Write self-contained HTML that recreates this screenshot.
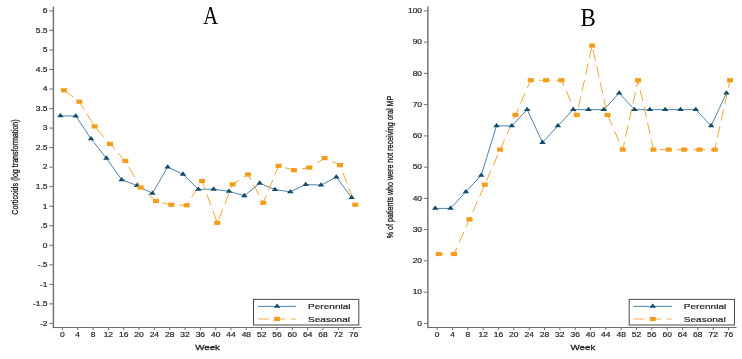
<!DOCTYPE html>
<html><head><meta charset="utf-8"><style>
html,body{margin:0;padding:0;background:#fff;}
body{width:742px;height:359px;overflow:hidden;}
svg{display:block;}
svg{will-change:transform;}
#wrap{width:742px;height:359px;}
.t{font-family:"Liberation Sans",sans-serif;font-size:8.5px;fill:#1e1e1e;stroke:#1e1e1e;stroke-width:0.22px;}
.w{font-family:"Liberation Sans",sans-serif;font-size:9.8px;fill:#1e1e1e;stroke:#1e1e1e;stroke-width:0.35px;}
.lg{font-family:"Liberation Sans",sans-serif;font-size:10.05px;fill:#1e1e1e;stroke:#1e1e1e;stroke-width:0.25px;}
.yl{font-family:"Liberation Sans",sans-serif;font-size:9.9px;fill:#1e1e1e;stroke:#1e1e1e;stroke-width:0.35px;}
.ti{font-family:"Liberation Serif",serif;font-size:23px;fill:#000;}
</style></head><body>
<div id="wrap"><svg width="742" height="359" viewBox="0 0 742 359">
<line x1="53.4" y1="6.4" x2="53.4" y2="328.2" stroke="#6e6e6e" stroke-width="1.4"/>
<line x1="52.9" y1="327.5" x2="361.7" y2="327.5" stroke="#6e6e6e" stroke-width="1.2"/>
<line x1="49.4" y1="10.90" x2="53.4" y2="10.90" stroke="#6e6e6e" stroke-width="1"/>
<text x="47.6" y="10.90" transform="translate(0 10.90) scale(1 0.78) translate(0 -10.90)" dy="3.0" text-anchor="end" class="t">6</text>
<line x1="49.4" y1="30.43" x2="53.4" y2="30.43" stroke="#6e6e6e" stroke-width="1"/>
<text x="47.6" y="30.43" transform="translate(0 30.43) scale(1 0.78) translate(0 -30.43)" dy="3.0" text-anchor="end" class="t">5.5</text>
<line x1="49.4" y1="49.96" x2="53.4" y2="49.96" stroke="#6e6e6e" stroke-width="1"/>
<text x="47.6" y="49.96" transform="translate(0 49.96) scale(1 0.78) translate(0 -49.96)" dy="3.0" text-anchor="end" class="t">5</text>
<line x1="49.4" y1="69.49" x2="53.4" y2="69.49" stroke="#6e6e6e" stroke-width="1"/>
<text x="47.6" y="69.49" transform="translate(0 69.49) scale(1 0.78) translate(0 -69.49)" dy="3.0" text-anchor="end" class="t">4.5</text>
<line x1="49.4" y1="89.02" x2="53.4" y2="89.02" stroke="#6e6e6e" stroke-width="1"/>
<text x="47.6" y="89.02" transform="translate(0 89.02) scale(1 0.78) translate(0 -89.02)" dy="3.0" text-anchor="end" class="t">4</text>
<line x1="49.4" y1="108.56" x2="53.4" y2="108.56" stroke="#6e6e6e" stroke-width="1"/>
<text x="47.6" y="108.56" transform="translate(0 108.56) scale(1 0.78) translate(0 -108.56)" dy="3.0" text-anchor="end" class="t">3.5</text>
<line x1="49.4" y1="128.09" x2="53.4" y2="128.09" stroke="#6e6e6e" stroke-width="1"/>
<text x="47.6" y="128.09" transform="translate(0 128.09) scale(1 0.78) translate(0 -128.09)" dy="3.0" text-anchor="end" class="t">3</text>
<line x1="49.4" y1="147.62" x2="53.4" y2="147.62" stroke="#6e6e6e" stroke-width="1"/>
<text x="47.6" y="147.62" transform="translate(0 147.62) scale(1 0.78) translate(0 -147.62)" dy="3.0" text-anchor="end" class="t">2.5</text>
<line x1="49.4" y1="167.15" x2="53.4" y2="167.15" stroke="#6e6e6e" stroke-width="1"/>
<text x="47.6" y="167.15" transform="translate(0 167.15) scale(1 0.78) translate(0 -167.15)" dy="3.0" text-anchor="end" class="t">2</text>
<line x1="49.4" y1="186.68" x2="53.4" y2="186.68" stroke="#6e6e6e" stroke-width="1"/>
<text x="47.6" y="186.68" transform="translate(0 186.68) scale(1 0.78) translate(0 -186.68)" dy="3.0" text-anchor="end" class="t">1.5</text>
<line x1="49.4" y1="206.21" x2="53.4" y2="206.21" stroke="#6e6e6e" stroke-width="1"/>
<text x="47.6" y="206.21" transform="translate(0 206.21) scale(1 0.78) translate(0 -206.21)" dy="3.0" text-anchor="end" class="t">1</text>
<line x1="49.4" y1="225.74" x2="53.4" y2="225.74" stroke="#6e6e6e" stroke-width="1"/>
<text x="47.6" y="225.74" transform="translate(0 225.74) scale(1 0.78) translate(0 -225.74)" dy="3.0" text-anchor="end" class="t">.5</text>
<line x1="49.4" y1="245.27" x2="53.4" y2="245.27" stroke="#6e6e6e" stroke-width="1"/>
<text x="47.6" y="245.27" transform="translate(0 245.27) scale(1 0.78) translate(0 -245.27)" dy="3.0" text-anchor="end" class="t">0</text>
<line x1="49.4" y1="264.81" x2="53.4" y2="264.81" stroke="#6e6e6e" stroke-width="1"/>
<text x="47.6" y="264.81" transform="translate(0 264.81) scale(1 0.78) translate(0 -264.81)" dy="3.0" text-anchor="end" class="t">-.5</text>
<line x1="49.4" y1="284.34" x2="53.4" y2="284.34" stroke="#6e6e6e" stroke-width="1"/>
<text x="47.6" y="284.34" transform="translate(0 284.34) scale(1 0.78) translate(0 -284.34)" dy="3.0" text-anchor="end" class="t">-1</text>
<line x1="49.4" y1="303.87" x2="53.4" y2="303.87" stroke="#6e6e6e" stroke-width="1"/>
<text x="47.6" y="303.87" transform="translate(0 303.87) scale(1 0.78) translate(0 -303.87)" dy="3.0" text-anchor="end" class="t">-1.5</text>
<line x1="49.4" y1="323.40" x2="53.4" y2="323.40" stroke="#6e6e6e" stroke-width="1"/>
<text x="47.6" y="323.40" transform="translate(0 323.40) scale(1 0.78) translate(0 -323.40)" dy="3.0" text-anchor="end" class="t">-2</text>
<line x1="62.40" y1="327.5" x2="62.40" y2="330.1" stroke="#6e6e6e" stroke-width="1"/>
<text x="62.40" y="334.3" transform="translate(0 334.3) scale(1 0.78) translate(0 -334.3)" dy="3.0" text-anchor="middle" class="t">0</text>
<line x1="77.73" y1="327.5" x2="77.73" y2="330.1" stroke="#6e6e6e" stroke-width="1"/>
<text x="77.73" y="334.3" transform="translate(0 334.3) scale(1 0.78) translate(0 -334.3)" dy="3.0" text-anchor="middle" class="t">4</text>
<line x1="93.06" y1="327.5" x2="93.06" y2="330.1" stroke="#6e6e6e" stroke-width="1"/>
<text x="93.06" y="334.3" transform="translate(0 334.3) scale(1 0.78) translate(0 -334.3)" dy="3.0" text-anchor="middle" class="t">8</text>
<line x1="108.39" y1="327.5" x2="108.39" y2="330.1" stroke="#6e6e6e" stroke-width="1"/>
<text x="108.39" y="334.3" transform="translate(0 334.3) scale(1 0.78) translate(0 -334.3)" dy="3.0" text-anchor="middle" class="t">12</text>
<line x1="123.72" y1="327.5" x2="123.72" y2="330.1" stroke="#6e6e6e" stroke-width="1"/>
<text x="123.72" y="334.3" transform="translate(0 334.3) scale(1 0.78) translate(0 -334.3)" dy="3.0" text-anchor="middle" class="t">16</text>
<line x1="139.05" y1="327.5" x2="139.05" y2="330.1" stroke="#6e6e6e" stroke-width="1"/>
<text x="139.05" y="334.3" transform="translate(0 334.3) scale(1 0.78) translate(0 -334.3)" dy="3.0" text-anchor="middle" class="t">20</text>
<line x1="154.38" y1="327.5" x2="154.38" y2="330.1" stroke="#6e6e6e" stroke-width="1"/>
<text x="154.38" y="334.3" transform="translate(0 334.3) scale(1 0.78) translate(0 -334.3)" dy="3.0" text-anchor="middle" class="t">24</text>
<line x1="169.71" y1="327.5" x2="169.71" y2="330.1" stroke="#6e6e6e" stroke-width="1"/>
<text x="169.71" y="334.3" transform="translate(0 334.3) scale(1 0.78) translate(0 -334.3)" dy="3.0" text-anchor="middle" class="t">28</text>
<line x1="185.04" y1="327.5" x2="185.04" y2="330.1" stroke="#6e6e6e" stroke-width="1"/>
<text x="185.04" y="334.3" transform="translate(0 334.3) scale(1 0.78) translate(0 -334.3)" dy="3.0" text-anchor="middle" class="t">32</text>
<line x1="200.37" y1="327.5" x2="200.37" y2="330.1" stroke="#6e6e6e" stroke-width="1"/>
<text x="200.37" y="334.3" transform="translate(0 334.3) scale(1 0.78) translate(0 -334.3)" dy="3.0" text-anchor="middle" class="t">36</text>
<line x1="215.70" y1="327.5" x2="215.70" y2="330.1" stroke="#6e6e6e" stroke-width="1"/>
<text x="215.70" y="334.3" transform="translate(0 334.3) scale(1 0.78) translate(0 -334.3)" dy="3.0" text-anchor="middle" class="t">40</text>
<line x1="231.03" y1="327.5" x2="231.03" y2="330.1" stroke="#6e6e6e" stroke-width="1"/>
<text x="231.03" y="334.3" transform="translate(0 334.3) scale(1 0.78) translate(0 -334.3)" dy="3.0" text-anchor="middle" class="t">44</text>
<line x1="246.36" y1="327.5" x2="246.36" y2="330.1" stroke="#6e6e6e" stroke-width="1"/>
<text x="246.36" y="334.3" transform="translate(0 334.3) scale(1 0.78) translate(0 -334.3)" dy="3.0" text-anchor="middle" class="t">48</text>
<line x1="261.69" y1="327.5" x2="261.69" y2="330.1" stroke="#6e6e6e" stroke-width="1"/>
<text x="261.69" y="334.3" transform="translate(0 334.3) scale(1 0.78) translate(0 -334.3)" dy="3.0" text-anchor="middle" class="t">52</text>
<line x1="277.02" y1="327.5" x2="277.02" y2="330.1" stroke="#6e6e6e" stroke-width="1"/>
<text x="277.02" y="334.3" transform="translate(0 334.3) scale(1 0.78) translate(0 -334.3)" dy="3.0" text-anchor="middle" class="t">56</text>
<line x1="292.35" y1="327.5" x2="292.35" y2="330.1" stroke="#6e6e6e" stroke-width="1"/>
<text x="292.35" y="334.3" transform="translate(0 334.3) scale(1 0.78) translate(0 -334.3)" dy="3.0" text-anchor="middle" class="t">60</text>
<line x1="307.68" y1="327.5" x2="307.68" y2="330.1" stroke="#6e6e6e" stroke-width="1"/>
<text x="307.68" y="334.3" transform="translate(0 334.3) scale(1 0.78) translate(0 -334.3)" dy="3.0" text-anchor="middle" class="t">64</text>
<line x1="323.01" y1="327.5" x2="323.01" y2="330.1" stroke="#6e6e6e" stroke-width="1"/>
<text x="323.01" y="334.3" transform="translate(0 334.3) scale(1 0.78) translate(0 -334.3)" dy="3.0" text-anchor="middle" class="t">68</text>
<line x1="338.34" y1="327.5" x2="338.34" y2="330.1" stroke="#6e6e6e" stroke-width="1"/>
<text x="338.34" y="334.3" transform="translate(0 334.3) scale(1 0.78) translate(0 -334.3)" dy="3.0" text-anchor="middle" class="t">72</text>
<line x1="353.67" y1="327.5" x2="353.67" y2="330.1" stroke="#6e6e6e" stroke-width="1"/>
<text x="353.67" y="334.3" transform="translate(0 334.3) scale(1 0.78) translate(0 -334.3)" dy="3.0" text-anchor="middle" class="t">76</text>
<text x="207.6" y="347.1" transform="translate(0 347.1) scale(1 0.75) translate(0 -347.1)" dy="3.5" text-anchor="middle" class="w">Week</text>
<g transform="translate(18.199999999999996 167) rotate(-90) scale(0.72 1)"><text x="0" y="0" text-anchor="middle" class="yl">Corticoids (log transformation)</text></g>
<text x="210.7" y="23.7" text-anchor="middle" class="ti" style="font-size:20.5px" transform="translate(210.7 23.7) scale(1 1.2) translate(-210.7 -23.7)">A</text>
<path d="M60.40 115.80L75.73 116.00L91.06 138.80L106.39 158.20L121.72 179.80L137.05 185.50L152.38 193.30L167.71 167.10L183.04 174.20L198.37 189.30L213.70 189.20L229.03 191.30L244.36 195.70L259.69 183.20L275.02 189.60L290.35 191.80L305.68 184.50L321.01 185.10L336.34 177.10L351.67 197.60" fill="none" stroke="#3a73a0" stroke-width="0.9"/>
<path d="M64.00 90.30L79.33 101.70L94.66 126.40L109.99 144.00L125.32 161.00L140.65 187.50L155.98 201.00L171.31 204.80L186.64 205.30L201.97 181.00L217.30 222.80L232.63 184.30L247.96 174.50L263.29 202.80L278.62 165.80L293.95 170.20L309.28 167.60L324.61 158.10L339.94 165.10L355.27 204.70" fill="none" stroke="#f2a43a" stroke-width="1.0" stroke-dasharray="11.4 5.5" stroke-dashoffset="0.0"/>
<path d="M60.40 112.93L63.70 117.23L57.10 117.23Z" fill="#124c6c"/>
<path d="M75.73 113.13L79.03 117.43L72.43 117.43Z" fill="#124c6c"/>
<path d="M91.06 135.93L94.36 140.23L87.76 140.23Z" fill="#124c6c"/>
<path d="M106.39 155.33L109.69 159.63L103.09 159.63Z" fill="#124c6c"/>
<path d="M121.72 176.93L125.02 181.23L118.42 181.23Z" fill="#124c6c"/>
<path d="M137.05 182.63L140.35 186.93L133.75 186.93Z" fill="#124c6c"/>
<path d="M152.38 190.43L155.68 194.73L149.08 194.73Z" fill="#124c6c"/>
<path d="M167.71 164.23L171.01 168.53L164.41 168.53Z" fill="#124c6c"/>
<path d="M183.04 171.33L186.34 175.63L179.74 175.63Z" fill="#124c6c"/>
<path d="M198.37 186.43L201.67 190.73L195.07 190.73Z" fill="#124c6c"/>
<path d="M213.70 186.33L217.00 190.63L210.40 190.63Z" fill="#124c6c"/>
<path d="M229.03 188.43L232.33 192.73L225.73 192.73Z" fill="#124c6c"/>
<path d="M244.36 192.83L247.66 197.13L241.06 197.13Z" fill="#124c6c"/>
<path d="M259.69 180.33L262.99 184.63L256.39 184.63Z" fill="#124c6c"/>
<path d="M275.02 186.73L278.32 191.03L271.72 191.03Z" fill="#124c6c"/>
<path d="M290.35 188.93L293.65 193.23L287.05 193.23Z" fill="#124c6c"/>
<path d="M305.68 181.63L308.98 185.93L302.38 185.93Z" fill="#124c6c"/>
<path d="M321.01 182.23L324.31 186.53L317.71 186.53Z" fill="#124c6c"/>
<path d="M336.34 174.23L339.64 178.53L333.04 178.53Z" fill="#124c6c"/>
<path d="M351.67 194.73L354.97 199.03L348.37 199.03Z" fill="#124c6c"/>
<rect x="61.00" y="88.20" width="6.0" height="4.2" fill="#f49d1a"/>
<rect x="76.33" y="99.60" width="6.0" height="4.2" fill="#f49d1a"/>
<rect x="91.66" y="124.30" width="6.0" height="4.2" fill="#f49d1a"/>
<rect x="106.99" y="141.90" width="6.0" height="4.2" fill="#f49d1a"/>
<rect x="122.32" y="158.90" width="6.0" height="4.2" fill="#f49d1a"/>
<rect x="137.65" y="185.40" width="6.0" height="4.2" fill="#f49d1a"/>
<rect x="152.98" y="198.90" width="6.0" height="4.2" fill="#f49d1a"/>
<rect x="168.31" y="202.70" width="6.0" height="4.2" fill="#f49d1a"/>
<rect x="183.64" y="203.20" width="6.0" height="4.2" fill="#f49d1a"/>
<rect x="198.97" y="178.90" width="6.0" height="4.2" fill="#f49d1a"/>
<rect x="214.30" y="220.70" width="6.0" height="4.2" fill="#f49d1a"/>
<rect x="229.63" y="182.20" width="6.0" height="4.2" fill="#f49d1a"/>
<rect x="244.96" y="172.40" width="6.0" height="4.2" fill="#f49d1a"/>
<rect x="260.29" y="200.70" width="6.0" height="4.2" fill="#f49d1a"/>
<rect x="275.62" y="163.70" width="6.0" height="4.2" fill="#f49d1a"/>
<rect x="290.95" y="168.10" width="6.0" height="4.2" fill="#f49d1a"/>
<rect x="306.28" y="165.50" width="6.0" height="4.2" fill="#f49d1a"/>
<rect x="321.61" y="156.00" width="6.0" height="4.2" fill="#f49d1a"/>
<rect x="336.94" y="163.00" width="6.0" height="4.2" fill="#f49d1a"/>
<rect x="352.27" y="202.60" width="6.0" height="4.2" fill="#f49d1a"/>
<rect x="253.5" y="299.4" width="105.30" height="25.60" fill="#fff" stroke="#4a4a4a" stroke-width="1.0"/>
<line x1="257.90" y1="306.4" x2="296.20" y2="306.4" stroke="#3a73a0" stroke-width="0.9"/>
<path d="M277.05 303.53L280.35 307.83L273.75 307.83Z" fill="#124c6c"/>
<line x1="257.90" y1="319.0" x2="296.20" y2="319.0" stroke="#f2a43a" stroke-width="0.9" stroke-dasharray="11 5.5"/>
<rect x="274.05" y="316.90" width="6.0" height="4.2" fill="#f49d1a"/>
<text x="308.10" y="306.6" transform="translate(0 306.6) scale(1 0.8) translate(0 -306.6)" dy="3.5" class="lg">Perennial</text>
<text x="308.10" y="319.3" transform="translate(0 319.3) scale(1 0.8) translate(0 -319.3)" dy="3.5" class="lg">Seasonal</text>
<line x1="427.9" y1="6.4" x2="427.9" y2="328.2" stroke="#6e6e6e" stroke-width="1.4"/>
<line x1="427.4" y1="327.5" x2="736.5" y2="327.5" stroke="#6e6e6e" stroke-width="1.2"/>
<line x1="423.9" y1="10.90" x2="427.9" y2="10.90" stroke="#6e6e6e" stroke-width="1"/>
<text x="422.09999999999997" y="10.90" transform="translate(0 10.90) scale(1 0.78) translate(0 -10.90)" dy="3.0" text-anchor="end" class="t">100</text>
<line x1="423.9" y1="42.15" x2="427.9" y2="42.15" stroke="#6e6e6e" stroke-width="1"/>
<text x="422.09999999999997" y="42.15" transform="translate(0 42.15) scale(1 0.78) translate(0 -42.15)" dy="3.0" text-anchor="end" class="t">90</text>
<line x1="423.9" y1="73.40" x2="427.9" y2="73.40" stroke="#6e6e6e" stroke-width="1"/>
<text x="422.09999999999997" y="73.40" transform="translate(0 73.40) scale(1 0.78) translate(0 -73.40)" dy="3.0" text-anchor="end" class="t">80</text>
<line x1="423.9" y1="104.65" x2="427.9" y2="104.65" stroke="#6e6e6e" stroke-width="1"/>
<text x="422.09999999999997" y="104.65" transform="translate(0 104.65) scale(1 0.78) translate(0 -104.65)" dy="3.0" text-anchor="end" class="t">70</text>
<line x1="423.9" y1="135.90" x2="427.9" y2="135.90" stroke="#6e6e6e" stroke-width="1"/>
<text x="422.09999999999997" y="135.90" transform="translate(0 135.90) scale(1 0.78) translate(0 -135.90)" dy="3.0" text-anchor="end" class="t">60</text>
<line x1="423.9" y1="167.15" x2="427.9" y2="167.15" stroke="#6e6e6e" stroke-width="1"/>
<text x="422.09999999999997" y="167.15" transform="translate(0 167.15) scale(1 0.78) translate(0 -167.15)" dy="3.0" text-anchor="end" class="t">50</text>
<line x1="423.9" y1="198.40" x2="427.9" y2="198.40" stroke="#6e6e6e" stroke-width="1"/>
<text x="422.09999999999997" y="198.40" transform="translate(0 198.40) scale(1 0.78) translate(0 -198.40)" dy="3.0" text-anchor="end" class="t">40</text>
<line x1="423.9" y1="229.65" x2="427.9" y2="229.65" stroke="#6e6e6e" stroke-width="1"/>
<text x="422.09999999999997" y="229.65" transform="translate(0 229.65) scale(1 0.78) translate(0 -229.65)" dy="3.0" text-anchor="end" class="t">30</text>
<line x1="423.9" y1="260.90" x2="427.9" y2="260.90" stroke="#6e6e6e" stroke-width="1"/>
<text x="422.09999999999997" y="260.90" transform="translate(0 260.90) scale(1 0.78) translate(0 -260.90)" dy="3.0" text-anchor="end" class="t">20</text>
<line x1="423.9" y1="292.15" x2="427.9" y2="292.15" stroke="#6e6e6e" stroke-width="1"/>
<text x="422.09999999999997" y="292.15" transform="translate(0 292.15) scale(1 0.78) translate(0 -292.15)" dy="3.0" text-anchor="end" class="t">10</text>
<line x1="423.9" y1="323.40" x2="427.9" y2="323.40" stroke="#6e6e6e" stroke-width="1"/>
<text x="422.09999999999997" y="323.40" transform="translate(0 323.40) scale(1 0.78) translate(0 -323.40)" dy="3.0" text-anchor="end" class="t">0</text>
<line x1="437.20" y1="327.5" x2="437.20" y2="330.1" stroke="#6e6e6e" stroke-width="1"/>
<text x="437.20" y="334.3" transform="translate(0 334.3) scale(1 0.78) translate(0 -334.3)" dy="3.0" text-anchor="middle" class="t">0</text>
<line x1="452.53" y1="327.5" x2="452.53" y2="330.1" stroke="#6e6e6e" stroke-width="1"/>
<text x="452.53" y="334.3" transform="translate(0 334.3) scale(1 0.78) translate(0 -334.3)" dy="3.0" text-anchor="middle" class="t">4</text>
<line x1="467.86" y1="327.5" x2="467.86" y2="330.1" stroke="#6e6e6e" stroke-width="1"/>
<text x="467.86" y="334.3" transform="translate(0 334.3) scale(1 0.78) translate(0 -334.3)" dy="3.0" text-anchor="middle" class="t">8</text>
<line x1="483.19" y1="327.5" x2="483.19" y2="330.1" stroke="#6e6e6e" stroke-width="1"/>
<text x="483.19" y="334.3" transform="translate(0 334.3) scale(1 0.78) translate(0 -334.3)" dy="3.0" text-anchor="middle" class="t">12</text>
<line x1="498.52" y1="327.5" x2="498.52" y2="330.1" stroke="#6e6e6e" stroke-width="1"/>
<text x="498.52" y="334.3" transform="translate(0 334.3) scale(1 0.78) translate(0 -334.3)" dy="3.0" text-anchor="middle" class="t">16</text>
<line x1="513.85" y1="327.5" x2="513.85" y2="330.1" stroke="#6e6e6e" stroke-width="1"/>
<text x="513.85" y="334.3" transform="translate(0 334.3) scale(1 0.78) translate(0 -334.3)" dy="3.0" text-anchor="middle" class="t">20</text>
<line x1="529.18" y1="327.5" x2="529.18" y2="330.1" stroke="#6e6e6e" stroke-width="1"/>
<text x="529.18" y="334.3" transform="translate(0 334.3) scale(1 0.78) translate(0 -334.3)" dy="3.0" text-anchor="middle" class="t">24</text>
<line x1="544.51" y1="327.5" x2="544.51" y2="330.1" stroke="#6e6e6e" stroke-width="1"/>
<text x="544.51" y="334.3" transform="translate(0 334.3) scale(1 0.78) translate(0 -334.3)" dy="3.0" text-anchor="middle" class="t">28</text>
<line x1="559.84" y1="327.5" x2="559.84" y2="330.1" stroke="#6e6e6e" stroke-width="1"/>
<text x="559.84" y="334.3" transform="translate(0 334.3) scale(1 0.78) translate(0 -334.3)" dy="3.0" text-anchor="middle" class="t">32</text>
<line x1="575.17" y1="327.5" x2="575.17" y2="330.1" stroke="#6e6e6e" stroke-width="1"/>
<text x="575.17" y="334.3" transform="translate(0 334.3) scale(1 0.78) translate(0 -334.3)" dy="3.0" text-anchor="middle" class="t">36</text>
<line x1="590.50" y1="327.5" x2="590.50" y2="330.1" stroke="#6e6e6e" stroke-width="1"/>
<text x="590.50" y="334.3" transform="translate(0 334.3) scale(1 0.78) translate(0 -334.3)" dy="3.0" text-anchor="middle" class="t">40</text>
<line x1="605.83" y1="327.5" x2="605.83" y2="330.1" stroke="#6e6e6e" stroke-width="1"/>
<text x="605.83" y="334.3" transform="translate(0 334.3) scale(1 0.78) translate(0 -334.3)" dy="3.0" text-anchor="middle" class="t">44</text>
<line x1="621.16" y1="327.5" x2="621.16" y2="330.1" stroke="#6e6e6e" stroke-width="1"/>
<text x="621.16" y="334.3" transform="translate(0 334.3) scale(1 0.78) translate(0 -334.3)" dy="3.0" text-anchor="middle" class="t">48</text>
<line x1="636.49" y1="327.5" x2="636.49" y2="330.1" stroke="#6e6e6e" stroke-width="1"/>
<text x="636.49" y="334.3" transform="translate(0 334.3) scale(1 0.78) translate(0 -334.3)" dy="3.0" text-anchor="middle" class="t">52</text>
<line x1="651.82" y1="327.5" x2="651.82" y2="330.1" stroke="#6e6e6e" stroke-width="1"/>
<text x="651.82" y="334.3" transform="translate(0 334.3) scale(1 0.78) translate(0 -334.3)" dy="3.0" text-anchor="middle" class="t">56</text>
<line x1="667.15" y1="327.5" x2="667.15" y2="330.1" stroke="#6e6e6e" stroke-width="1"/>
<text x="667.15" y="334.3" transform="translate(0 334.3) scale(1 0.78) translate(0 -334.3)" dy="3.0" text-anchor="middle" class="t">60</text>
<line x1="682.48" y1="327.5" x2="682.48" y2="330.1" stroke="#6e6e6e" stroke-width="1"/>
<text x="682.48" y="334.3" transform="translate(0 334.3) scale(1 0.78) translate(0 -334.3)" dy="3.0" text-anchor="middle" class="t">64</text>
<line x1="697.81" y1="327.5" x2="697.81" y2="330.1" stroke="#6e6e6e" stroke-width="1"/>
<text x="697.81" y="334.3" transform="translate(0 334.3) scale(1 0.78) translate(0 -334.3)" dy="3.0" text-anchor="middle" class="t">68</text>
<line x1="713.14" y1="327.5" x2="713.14" y2="330.1" stroke="#6e6e6e" stroke-width="1"/>
<text x="713.14" y="334.3" transform="translate(0 334.3) scale(1 0.78) translate(0 -334.3)" dy="3.0" text-anchor="middle" class="t">72</text>
<line x1="728.47" y1="327.5" x2="728.47" y2="330.1" stroke="#6e6e6e" stroke-width="1"/>
<text x="728.47" y="334.3" transform="translate(0 334.3) scale(1 0.78) translate(0 -334.3)" dy="3.0" text-anchor="middle" class="t">76</text>
<text x="583.0" y="347.1" transform="translate(0 347.1) scale(1 0.75) translate(0 -347.1)" dy="3.5" text-anchor="middle" class="w">Week</text>
<g transform="translate(392.7 167) rotate(-90) scale(0.72 1)"><text x="0" y="0" text-anchor="middle" class="yl">% of patients who were not receiving oral MP</text></g>
<text x="588.2" y="26.3" text-anchor="middle" class="ti" style="font-size:23px" transform="translate(588.2 26.3) scale(1 1.09) translate(-588.2 -26.3)">B</text>
<path d="M435.20 208.40L450.53 208.40L465.86 191.84L481.19 175.27L496.52 125.90L511.85 125.90L527.18 109.65L542.51 142.46L557.84 125.90L573.17 109.65L588.50 109.65L603.83 109.65L619.16 93.09L634.49 109.65L649.82 109.65L665.15 109.65L680.48 109.65L695.81 109.65L711.14 125.90L726.47 93.09" fill="none" stroke="#3a73a0" stroke-width="0.9"/>
<path d="M438.80 254.02L454.13 254.02L469.46 219.34L484.79 184.65L500.12 149.65L515.45 114.96L530.78 80.27L546.11 80.27L561.44 80.27L576.77 114.96L592.10 45.59L607.43 114.96L622.76 149.65L638.09 80.27L653.42 149.65L668.75 149.65L684.08 149.65L699.41 149.65L714.74 149.65L730.07 80.27" fill="none" stroke="#f2a43a" stroke-width="1.0" stroke-dasharray="11.4 5.5" stroke-dashoffset="6.0"/>
<path d="M435.20 205.53L438.50 209.83L431.90 209.83Z" fill="#124c6c"/>
<path d="M450.53 205.53L453.83 209.83L447.23 209.83Z" fill="#124c6c"/>
<path d="M465.86 188.97L469.16 193.27L462.56 193.27Z" fill="#124c6c"/>
<path d="M481.19 172.41L484.49 176.71L477.89 176.71Z" fill="#124c6c"/>
<path d="M496.52 123.03L499.82 127.33L493.22 127.33Z" fill="#124c6c"/>
<path d="M511.85 123.03L515.15 127.33L508.55 127.33Z" fill="#124c6c"/>
<path d="M527.18 106.78L530.48 111.08L523.88 111.08Z" fill="#124c6c"/>
<path d="M542.51 139.60L545.81 143.90L539.21 143.90Z" fill="#124c6c"/>
<path d="M557.84 123.03L561.14 127.33L554.54 127.33Z" fill="#124c6c"/>
<path d="M573.17 106.78L576.47 111.08L569.87 111.08Z" fill="#124c6c"/>
<path d="M588.50 106.78L591.80 111.08L585.20 111.08Z" fill="#124c6c"/>
<path d="M603.83 106.78L607.13 111.08L600.53 111.08Z" fill="#124c6c"/>
<path d="M619.16 90.22L622.46 94.52L615.86 94.52Z" fill="#124c6c"/>
<path d="M634.49 106.78L637.79 111.08L631.19 111.08Z" fill="#124c6c"/>
<path d="M649.82 106.78L653.12 111.08L646.52 111.08Z" fill="#124c6c"/>
<path d="M665.15 106.78L668.45 111.08L661.85 111.08Z" fill="#124c6c"/>
<path d="M680.48 106.78L683.78 111.08L677.18 111.08Z" fill="#124c6c"/>
<path d="M695.81 106.78L699.11 111.08L692.51 111.08Z" fill="#124c6c"/>
<path d="M711.14 123.03L714.44 127.33L707.84 127.33Z" fill="#124c6c"/>
<path d="M726.47 90.22L729.77 94.52L723.17 94.52Z" fill="#124c6c"/>
<rect x="435.80" y="251.92" width="6.0" height="4.2" fill="#f49d1a"/>
<rect x="451.13" y="251.92" width="6.0" height="4.2" fill="#f49d1a"/>
<rect x="466.46" y="217.24" width="6.0" height="4.2" fill="#f49d1a"/>
<rect x="481.79" y="182.55" width="6.0" height="4.2" fill="#f49d1a"/>
<rect x="497.12" y="147.55" width="6.0" height="4.2" fill="#f49d1a"/>
<rect x="512.45" y="112.86" width="6.0" height="4.2" fill="#f49d1a"/>
<rect x="527.78" y="78.17" width="6.0" height="4.2" fill="#f49d1a"/>
<rect x="543.11" y="78.17" width="6.0" height="4.2" fill="#f49d1a"/>
<rect x="558.44" y="78.17" width="6.0" height="4.2" fill="#f49d1a"/>
<rect x="573.77" y="112.86" width="6.0" height="4.2" fill="#f49d1a"/>
<rect x="589.10" y="43.49" width="6.0" height="4.2" fill="#f49d1a"/>
<rect x="604.43" y="112.86" width="6.0" height="4.2" fill="#f49d1a"/>
<rect x="619.76" y="147.55" width="6.0" height="4.2" fill="#f49d1a"/>
<rect x="635.09" y="78.17" width="6.0" height="4.2" fill="#f49d1a"/>
<rect x="650.42" y="147.55" width="6.0" height="4.2" fill="#f49d1a"/>
<rect x="665.75" y="147.55" width="6.0" height="4.2" fill="#f49d1a"/>
<rect x="681.08" y="147.55" width="6.0" height="4.2" fill="#f49d1a"/>
<rect x="696.41" y="147.55" width="6.0" height="4.2" fill="#f49d1a"/>
<rect x="711.74" y="147.55" width="6.0" height="4.2" fill="#f49d1a"/>
<rect x="727.07" y="78.17" width="6.0" height="4.2" fill="#f49d1a"/>
<rect x="629.2" y="299.4" width="105.30" height="25.60" fill="#fff" stroke="#4a4a4a" stroke-width="1.0"/>
<line x1="633.60" y1="306.4" x2="671.90" y2="306.4" stroke="#3a73a0" stroke-width="0.9"/>
<path d="M652.75 303.53L656.05 307.83L649.45 307.83Z" fill="#124c6c"/>
<line x1="633.60" y1="319.0" x2="671.90" y2="319.0" stroke="#f2a43a" stroke-width="0.9" stroke-dasharray="11 5.5"/>
<rect x="649.75" y="316.90" width="6.0" height="4.2" fill="#f49d1a"/>
<text x="683.80" y="306.6" transform="translate(0 306.6) scale(1 0.8) translate(0 -306.6)" dy="3.5" class="lg">Perennial</text>
<text x="683.80" y="319.3" transform="translate(0 319.3) scale(1 0.8) translate(0 -319.3)" dy="3.5" class="lg">Seasonal</text>
</svg></div>
</body></html>
